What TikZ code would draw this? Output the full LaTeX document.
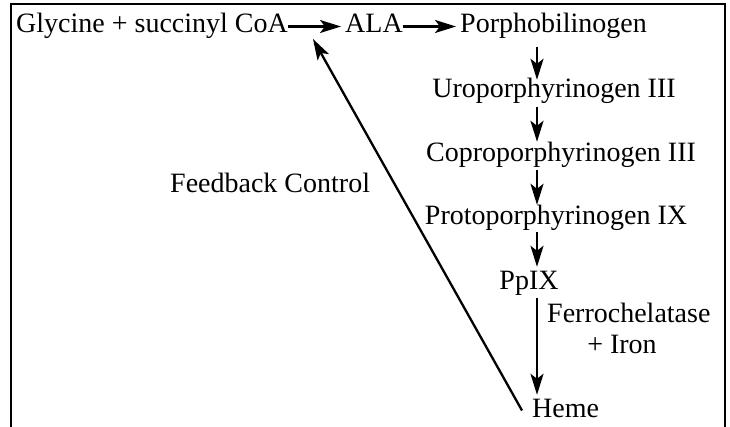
\documentclass[tikz,border=0pt]{standalone}
\usepackage{fontspec}
\setmainfont{Liberation Serif}
\usetikzlibrary{arrows.meta}
\usetikzlibrary{positioning}

\tikzset{
  txt/.style={inner sep=0pt, text height=20pt, text depth=7pt,
    font=\fontsize{28}{31}\selectfont},
  flow/.style={-{Stealth[length=21pt,width=13pt,inset=5pt]}, line width=2.3pt},
}

\begin{document}
\begin{tikzpicture}[x=1pt, y=-1pt]
  \useasboundingbox (0,0) rectangle (730,427);

  % open frame
  \draw [line width=1.4pt] (11,427) -- (11,4) -- (725,4) -- (725,427);

  \node [txt, anchor=base west] (gly) at (16,33) {Glycine + succinyl CoA};
  \node [txt, anchor=base west] (ala) at (345,33) {ALA};
  \node [txt, anchor=base west] (por) at (460,33) {Porphobilinogen};
  \node [txt, anchor=base] (uro) at (554,98) {Uroporphyrinogen III};
  \node [txt, anchor=base] (copro) at (561,162) {Coproporphyrinogen III};
  \node [txt, anchor=base] (proto) at (556,225) {Protoporphyrinogen IX};
  \node [txt, anchor=base] (ppix) at (529,290) {PpIX};
  \node [txt, anchor=base west] (heme) at (532,417) {Heme};
  \node [txt, anchor=base west] (ferro) at (547,322) {Ferrochelatase};
  \node [txt, anchor=base] (iron) at (622,353) {+ Iron};
  \node [txt, anchor=base west] (fbc) at (170,193) {Feedback Control};

  \coordinate (ax) at (537,0);
  \coordinate (fbend) at (313,39);

  % main pathway
  \draw [flow, shorten >=4pt] (gly.east) -- (ala.west);
  \draw [flow, shorten >=4pt] (ala.east) -- (por.west);
  \draw [flow, shorten <=7pt, shorten >=-2pt] (por.south -| ax) -- (uro.north -| ax);
  \draw [flow, shorten <=2pt] (uro.south -| ax) -- (copro.north -| ax);
  \draw [flow, shorten <=1pt] (copro.south -| ax) -- (proto.north -| ax);
  \draw [flow, shorten >=3pt] (proto.south -| ax) -- (ppix.north -| ax);
  \draw [flow, shorten <=1pt, shorten >=2pt] (ppix.south -| ax) -- (heme.north -| ax);

  % feedback
  \draw [flow] ([xshift=-10pt]heme.west) -- (fbend);
\end{tikzpicture}
\end{document}
